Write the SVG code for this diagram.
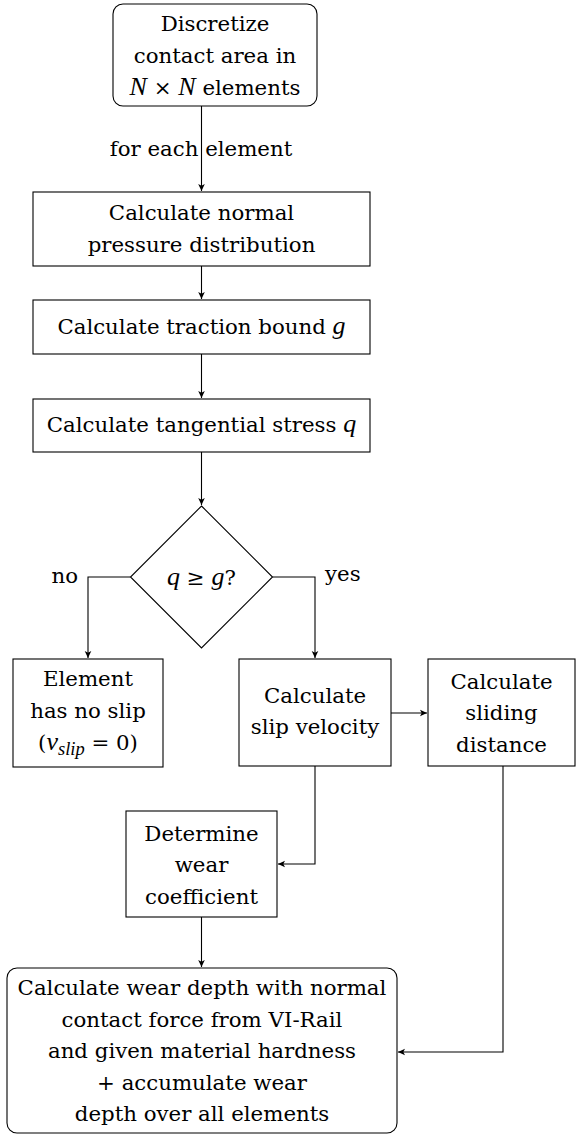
<svg xmlns="http://www.w3.org/2000/svg" width="576" height="1135" viewBox="0 0 576 1135">
<style>
  .box { fill: #ffffff; stroke: #000000; stroke-width: 1.1; }
  .t { font-family: "DejaVu Serif", serif; font-size: 21.3px; fill: #000000; text-anchor: middle; }
  .i { font-family: "Liberation Serif", serif; font-style: italic; font-size: 26px; }
  .c { fill: none; stroke: #000000; stroke-width: 1.1; }
</style>
<defs>
  <marker id="arr" viewBox="-8 -4 9 8" refX="0" refY="0" markerWidth="9" markerHeight="8" markerUnits="userSpaceOnUse" orient="auto">
    <path d="M0,0 L-7,-3.3 L-5.3,0 L-7,3.3 Z" fill="#000000"/>
  </marker>
</defs>

<g id="connectors">
  <path class="c" d="M201.5,106 V191" marker-end="url(#arr)"/>
  <path class="c" d="M201.5,266 V299" marker-end="url(#arr)"/>
  <path class="c" d="M201.5,354 V398" marker-end="url(#arr)"/>
  <path class="c" d="M201.5,452 V505" marker-end="url(#arr)"/>
  <path class="c" d="M130.5,577 H88 V658" marker-end="url(#arr)"/>
  <path class="c" d="M272.5,577 H315 V658" marker-end="url(#arr)"/>
  <path class="c" d="M391,713 H427" marker-end="url(#arr)"/>
  <path class="c" d="M315,766 V864 H278" marker-end="url(#arr)"/>
  <path class="c" d="M201.5,917 V967" marker-end="url(#arr)"/>
  <path class="c" d="M503,766 V1052 H398" marker-end="url(#arr)"/>
  <text class="t" x="201" y="156">for each element</text>
  <text class="t" x="78" y="583" style="text-anchor:end">no</text>
  <text class="t" x="325" y="581" style="text-anchor:start">yes</text>
</g>

<g id="discretize">
  <rect class="box" x="113" y="4" width="204" height="102" rx="10" ry="10"/>
  <text class="t" x="215" y="31">Discretize</text>
  <text class="t" x="215" y="63">contact area in</text>
  <text class="t" x="215" y="95"><tspan class="i">N</tspan> × <tspan class="i">N</tspan> elements</text>
</g>

<g id="normal-pressure">
  <rect class="box" x="33" y="192" width="337" height="74"/>
  <text class="t" x="201.5" y="220">Calculate normal</text>
  <text class="t" x="201.5" y="252">pressure distribution</text>
</g>

<g id="traction-bound">
  <rect class="box" x="33" y="300" width="337" height="54"/>
  <text class="t" x="201.5" y="334">Calculate traction bound <tspan class="i">g</tspan></text>
</g>

<g id="tangential-stress">
  <rect class="box" x="33" y="399" width="337" height="53"/>
  <text class="t" x="201.5" y="432">Calculate tangential stress <tspan class="i">q</tspan></text>
</g>

<g id="decision">
  <polygon class="box" points="201.5,506 272.5,577 201.5,648 130.5,577"/>
  <text class="t" x="201.5" y="585"><tspan class="i">q</tspan> ≥ <tspan class="i">g</tspan>?</text>
</g>

<g id="no-slip">
  <rect class="box" x="13" y="659" width="150" height="108"/>
  <text class="t" x="88" y="686">Element</text>
  <text class="t" x="88" y="718">has no slip</text>
  <text class="t" x="88" y="750">(<tspan class="i">v</tspan><tspan class="i" style="font-size:18.5px" dy="5">slip</tspan><tspan dy="-5"> = 0)</tspan></text>
</g>

<g id="slip-velocity">
  <rect class="box" x="239" y="659" width="152" height="107"/>
  <text class="t" x="315" y="703">Calculate</text>
  <text class="t" x="315" y="734">slip velocity</text>
</g>

<g id="sliding-distance">
  <rect class="box" x="428" y="659" width="147" height="107"/>
  <text class="t" x="501.5" y="689">Calculate</text>
  <text class="t" x="501.5" y="720">sliding</text>
  <text class="t" x="501.5" y="752">distance</text>
</g>

<g id="wear-coefficient">
  <rect class="box" x="126" y="811" width="151" height="106"/>
  <text class="t" x="201.5" y="841">Determine</text>
  <text class="t" x="201.5" y="872">wear</text>
  <text class="t" x="201.5" y="904">coefficient</text>
</g>

<g id="wear-depth">
  <rect class="box" x="7" y="968" width="390" height="165" rx="10" ry="10"/>
  <text class="t" x="202" y="995">Calculate wear depth with normal</text>
  <text class="t" x="202" y="1026.5">contact force from VI-Rail</text>
  <text class="t" x="202" y="1058">and given material hardness</text>
  <text class="t" x="202" y="1089.5">+ accumulate wear</text>
  <text class="t" x="202" y="1121">depth over all elements</text>
</g>
</svg>
